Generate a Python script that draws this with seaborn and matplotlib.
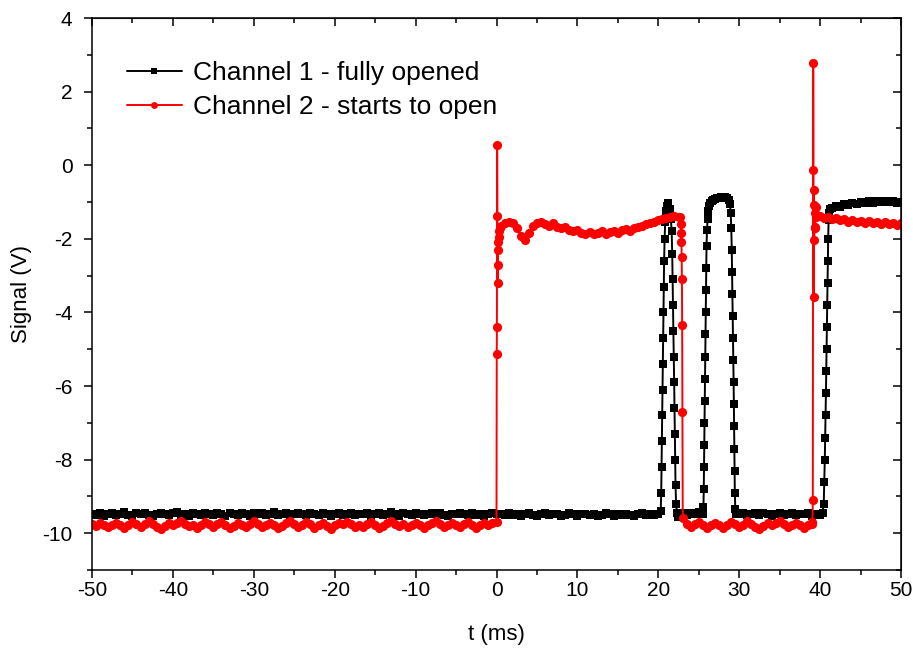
#Recreating the two-channel signal trace (Channel 1 vs Channel 2) with seaborn.

#Importing libraries.
import numpy as np
import pandas as pd
import matplotlib
matplotlib.use('Agg')
import matplotlib.pyplot as plt
from matplotlib.ticker import MultipleLocator
import seaborn as sns

#Channel 1 (fully opened), in V.
ch1_base_t = np.arange(-50, 20.01, 0.5)
ch1_base_v = [-9.47, -9.50, -9.44, -9.52, -9.48, -9.45, -9.51, -9.49, -9.43, -9.50,
              -9.53, -9.46, -9.48, -9.44, -9.50, -9.52, -9.47, -9.45, -9.49, -9.51,
              -9.46, -9.43, -9.50, -9.48, -9.52, -9.45, -9.47, -9.50, -9.44, -9.49,
              -9.51, -9.46, -9.48, -9.53, -9.45, -9.47, -9.50, -9.44, -9.48, -9.52,
              -9.46, -9.49, -9.45, -9.51, -9.47, -9.43, -9.50, -9.48, -9.46, -9.52,
              -9.49, -9.45, -9.47, -9.50, -9.44, -9.48, -9.51, -9.46, -9.49, -9.53,
              -9.47, -9.45, -9.50, -9.48, -9.44, -9.51, -9.47, -9.49, -9.45, -9.52,
              -9.48, -9.46, -9.50, -9.47, -9.43, -9.49, -9.52, -9.46, -9.48, -9.50,
              -9.45, -9.47, -9.51, -9.49, -9.46, -9.48, -9.44, -9.50, -9.52, -9.47,
              -9.49, -9.45, -9.48, -9.51, -9.46, -9.50, -9.47, -9.53, -9.48, -9.45,
              -9.49, -9.47, -9.51, -9.46, -9.50, -9.48, -9.52, -9.47, -9.45, -9.50,
              -9.53, -9.48, -9.46, -9.51, -9.49, -9.47, -9.52, -9.50, -9.46, -9.48,
              -9.54, -9.49, -9.47, -9.51, -9.48, -9.53, -9.50, -9.46, -9.49, -9.52,
              -9.48, -9.51, -9.47, -9.50, -9.53, -9.49, -9.46, -9.51, -9.48, -9.50,
              -9.49]

#First short pulse around 20-22 ms.
ch1_pulse1_t = [20.30, 20.36, 20.40, 20.44, 20.48, 20.52, 20.56, 20.60, 20.64, 20.68,
                20.72, 20.78, 20.85, 20.95, 21.05, 21.15, 21.25, 21.40, 21.55, 21.65,
                21.72, 21.77, 21.82, 21.87, 21.92, 21.96, 22.00, 22.04, 22.08, 22.13,
                22.20, 22.30, 22.40]
ch1_pulse1_v = [-9.40, -8.90, -8.20, -7.50, -6.80, -6.10, -5.40, -4.70, -4.00, -3.30,
                -2.60, -2.00, -1.55, -1.25, -1.10, -1.02, -1.05, -1.20, -1.45, -1.80,
                -2.40, -3.10, -3.80, -4.50, -5.20, -5.90, -6.60, -7.30, -8.00, -8.70,
                -9.20, -9.45, -9.55]

ch1_low2_t = np.arange(22.5, 25.51, 0.5)
ch1_low2_v = [-9.47, -9.44, -9.50, -9.46, -9.49, -9.43, -9.47]

#Second pulse 25.5-29.4 ms.
ch1_pulse2_t = [25.58, 25.62, 25.65, 25.68, 25.71, 25.74, 25.77, 25.80, 25.83, 25.86,
                25.89, 25.92, 25.96, 26.02, 26.10, 26.20, 26.32, 26.45, 26.60, 26.80,
                27.00, 27.25, 27.50, 27.75, 28.00, 28.25, 28.50, 28.70, 28.85, 28.95,
                29.02, 29.08, 29.12, 29.16, 29.20, 29.24, 29.28, 29.31, 29.34, 29.37,
                29.40, 29.43, 29.46, 29.52, 29.60]
ch1_pulse2_v = [-9.30, -8.80, -8.20, -7.60, -7.00, -6.40, -5.80, -5.20, -4.60, -4.00,
                -3.40, -2.80, -2.20, -1.75, -1.45, -1.25, -1.12, -1.04, -0.98, -0.94,
                -0.92, -0.90, -0.89, -0.87, -0.86, -0.87, -0.89, -0.94, -1.05, -1.30,
                -1.70, -2.30, -2.90, -3.50, -4.10, -4.70, -5.30, -5.90, -6.50, -7.10,
                -7.70, -8.30, -8.90, -9.35, -9.48]

ch1_low3_t = np.arange(30.0, 40.01, 0.5)
ch1_low3_v = [-9.48, -9.45, -9.51, -9.47, -9.44, -9.50, -9.46, -9.49, -9.52, -9.47,
              -9.45, -9.50, -9.48, -9.44, -9.51, -9.47, -9.49, -9.46, -9.52, -9.48,
              -9.50]

#Final opening at ~40.5 ms.
ch1_rise3_t = [40.30, 40.45, 40.52, 40.58, 40.63, 40.68, 40.72, 40.76, 40.80, 40.84,
               40.88, 40.92, 40.96, 41.00, 41.05, 41.12, 41.20]
ch1_rise3_v = [-9.45, -9.20, -8.60, -8.00, -7.40, -6.80, -6.20, -5.60, -5.00, -4.40,
               -3.80, -3.20, -2.60, -2.00, -1.50, -1.30, -1.20]

ch1_high4_t = np.arange(41.5, 50.01, 0.5)
ch1_high4_v = [-1.15, -1.10, -1.13, -1.06, -1.09, -1.03, -1.06, -1.00, -1.04, -0.98,
               -1.02, -0.97, -1.01, -0.96, -1.00, -0.97, -1.02, -0.99]

#Channel 2 (starts to open).
ch2_base_t = np.arange(-50, -0.49, 0.5)
ch2_base_v = [-9.74, -9.80, -9.72, -9.78, -9.84, -9.77, -9.71, -9.79, -9.86, -9.78,
              -9.70, -9.76, -9.82, -9.74, -9.68, -9.75, -9.83, -9.88, -9.80, -9.73,
              -9.79, -9.71, -9.66, -9.74, -9.81, -9.77, -9.85, -9.78, -9.70, -9.76,
              -9.83, -9.75, -9.69, -9.77, -9.87, -9.80, -9.72, -9.78, -9.84, -9.76,
              -9.68, -9.74, -9.82, -9.79, -9.71, -9.77, -9.86, -9.81, -9.73, -9.67,
              -9.75, -9.83, -9.78, -9.70, -9.76, -9.85, -9.79, -9.72, -9.80, -9.88,
              -9.79, -9.71, -9.76, -9.69, -9.75, -9.82, -9.77, -9.84, -9.76, -9.70,
              -9.78, -9.86, -9.80, -9.72, -9.66, -9.74, -9.81, -9.75, -9.83, -9.77,
              -9.71, -9.79, -9.87, -9.79, -9.73, -9.68, -9.76, -9.84, -9.78, -9.71,
              -9.77, -9.83, -9.75, -9.69, -9.78, -9.85, -9.79, -9.73, -9.77, -9.72]

#Spike at t = 0.
ch2_spike1_t = [0.00, 0.03, 0.05, 0.08, 0.11, 0.14, 0.17, 0.20, 0.24, 0.28, 0.35, 0.45]
ch2_spike1_v = [-9.70, -5.13, -4.40, 0.55, -1.38, -3.20, -2.70, -2.30, -2.10, -1.95, -1.80, -1.70]

ch2_plateau_t = np.arange(0.5, 22.51, 0.5)
ch2_plateau_v = [-1.66, -1.58, -1.54, -1.58, -1.70, -1.92, -2.04, -1.84, -1.66, -1.58,
                 -1.53, -1.61, -1.64, -1.58, -1.67, -1.72, -1.68, -1.77, -1.80, -1.75,
                 -1.83, -1.86, -1.81, -1.88, -1.84, -1.80, -1.87, -1.81, -1.78, -1.83,
                 -1.76, -1.74, -1.78, -1.70, -1.68, -1.64, -1.61, -1.57, -1.53, -1.50,
                 -1.46, -1.44, -1.41, -1.38, -1.40]

ch2_fall_t = [22.70, 22.80, 22.83, 22.86, 22.89, 22.92, 22.95, 22.98, 23.02]
ch2_fall_v = [-1.42, -1.60, -1.85, -2.10, -2.50, -3.10, -4.35, -6.70, -9.60]

ch2_low_t = np.arange(23.5, 39.01, 0.5)
ch2_low_v = [-9.76, -9.83, -9.75, -9.69, -9.77, -9.85, -9.79, -9.71, -9.78, -9.86,
             -9.78, -9.70, -9.76, -9.84, -9.77, -9.68, -9.75, -9.82, -9.88, -9.80,
             -9.72, -9.79, -9.73, -9.67, -9.76, -9.84, -9.78, -9.71, -9.79, -9.85,
             -9.77, -9.74]

#Second spike at ~39.2 ms.
ch2_spike2_t = [39.05, 39.10, 39.15, 39.18, 39.21, 39.24, 39.27, 39.30, 39.33, 39.36, 39.40, 39.45, 39.55]
ch2_spike2_v = [-9.70, -9.10, 2.78, -0.13, -3.58, -0.67, -2.03, -1.08, -1.70, -1.30, -1.68, -1.13, -1.40]

ch2_high_t = np.arange(40.0, 50.01, 0.5)
ch2_high_v = [-1.38, -1.44, -1.41, -1.47, -1.43, -1.50, -1.46, -1.53, -1.49, -1.55,
              -1.51, -1.56, -1.52, -1.58, -1.54, -1.60, -1.55, -1.61, -1.57, -1.62,
              -1.58]

#Building one table per channel.
ch1 = pd.DataFrame({
    't': np.concatenate([ch1_base_t, ch1_pulse1_t, ch1_low2_t, ch1_pulse2_t, ch1_low3_t, ch1_rise3_t, ch1_high4_t]),
    'v': np.concatenate([ch1_base_v, ch1_pulse1_v, ch1_low2_v, ch1_pulse2_v, ch1_low3_v, ch1_rise3_v, ch1_high4_v]),
})
ch2 = pd.DataFrame({
    't': np.concatenate([ch2_base_t, ch2_spike1_t, ch2_plateau_t, ch2_fall_t, ch2_low_t, ch2_spike2_t, ch2_high_t]),
    'v': np.concatenate([ch2_base_v, ch2_spike1_v, ch2_plateau_v, ch2_fall_v, ch2_low_v, ch2_spike2_v, ch2_high_v]),
})

#Styling.
sns.set_style('ticks')
plt.rcParams['font.family'] = ['Liberation Sans', 'DejaVu Sans']
plt.rcParams['axes.unicode_minus'] = False
plt.rcParams['text.color'] = 'black'
plt.rcParams['axes.labelcolor'] = 'black'
plt.rcParams['xtick.color'] = 'black'
plt.rcParams['ytick.color'] = 'black'

fig = plt.figure(figsize=(9.13, 6.59), dpi=100)
ax = fig.add_axes([92 / 913, 1 - 570 / 659, 809 / 913, 552 / 659])

#Plotting the two channels.
sns.lineplot(data=ch1, x='t', y='v', ax=ax, color='black', marker='s', markersize=5.6,
             markeredgewidth=0, linewidth=1.4, estimator=None, sort=False,
             label='Channel 1 - fully opened')
sns.lineplot(data=ch2, x='t', y='v', ax=ax, color='#ff0000', marker='o', markersize=6.6,
             markeredgewidth=0, linewidth=1.4, estimator=None, sort=False,
             label='Channel 2 - starts to open')

ax.set_xlim(-50, 50)
ax.set_ylim(-11, 4)
ax.set_xticks(range(-50, 51, 10))
ax.set_yticks(range(-10, 5, 2))
ax.xaxis.set_minor_locator(MultipleLocator(5))
ax.yaxis.set_minor_locator(MultipleLocator(1))
ax.tick_params(which='major', direction='out', length=6, width=1.1, labelsize=15, pad=2)
ax.tick_params(which='minor', direction='out', length=3.5, width=1.1)
ax.tick_params(axis='y', which='major', pad=8)
for side in ['top', 'right', 'left', 'bottom']:
    ax.spines[side].set_visible(True)
    ax.spines[side].set_linewidth(1.1)
    ax.spines[side].set_color('black')

#Mirror ticks pointing inward on the top and right edges.
top = ax.secondary_xaxis('top')
top.set_xticks(range(-50, 51, 10))
top.xaxis.set_minor_locator(MultipleLocator(5))
top.tick_params(which='major', direction='in', length=6, width=1.1, labeltop=False)
top.tick_params(which='minor', direction='in', length=3.5, width=1.1)
right = ax.secondary_yaxis('right')
right.set_yticks(range(-10, 5, 2))
right.yaxis.set_minor_locator(MultipleLocator(1))
right.tick_params(which='major', direction='in', length=6, width=1.1, labelright=False)
right.tick_params(which='minor', direction='in', length=3.5, width=1.1)

ax.set_xlabel('t (ms)', fontsize=16)
ax.set_ylabel('Signal (V)', fontsize=16)
ax.xaxis.set_label_coords(0.5, -0.098)
ax.yaxis.set_label_coords(-0.074, 0.5)

ax.legend(loc='upper left', bbox_to_anchor=(0.043, 0.922), frameon=False, fontsize=19,
          borderpad=0, borderaxespad=0, handlelength=2.1, handletextpad=0.4,
          labelspacing=0.38, markerscale=0.75)

plt.savefig('out.png', dpi=100)
